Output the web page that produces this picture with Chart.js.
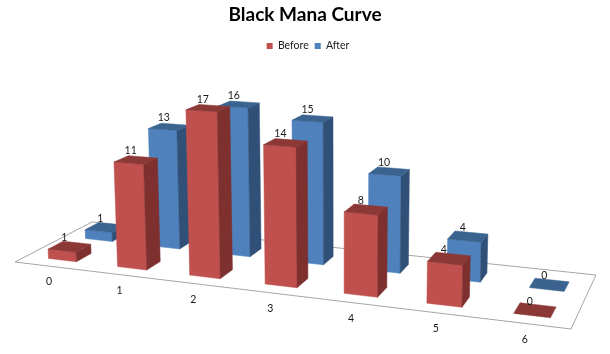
<!DOCTYPE html>
<html>
<head>
<meta charset="utf-8">
<title>Black Mana Curve</title>
<script src="https://cdn.jsdelivr.net/npm/chart.js@4"></script>
<style>
    html, body { margin: 0; padding: 0; background: #fff; }
    canvas { display: block; }
</style>
</head>
<body>
<canvas id="grafico" width="610" height="354"></canvas>
<script>
// Dados
const categorias = ['0', '1', '2', '3', '4', '5', '6'];
const before = [1, 11, 17, 14, 8, 4, 0];
const after = [1, 13, 16, 15, 10, 4, 0];

// Cantos do piso na tela: frente esq, frente dir, fundo dir, fundo esq
const p00 = [15, 262], p10 = [571, 329], p11 = [596, 275], p01 = [92, 222];

// Perspectiva do piso (quadrado unitario -> tela)
const dx1 = p10[0] - p11[0], dx2 = p01[0] - p11[0], sx = p00[0] - p10[0] + p11[0] - p01[0];
const dy1 = p10[1] - p11[1], dy2 = p01[1] - p11[1], sy = p00[1] - p10[1] + p11[1] - p01[1];
const det = dx1 * dy2 - dx2 * dy1;
const g = (sx * dy2 - dx2 * sy) / det;
const h = (dx1 * sy - sx * dy1) / det;
const a = p10[0] - p00[0] + g * p10[0], b = p01[0] - p00[0] + h * p01[0];
const d = p10[1] - p00[1] + g * p10[1], e = p01[1] - p00[1] + h * p01[1];

const alturaTotal = 169; // px de tela para a altura toda do eixo y
const deslocU = 0.004; // ajuste fino das barras no piso

function projetar(u, v, alt) {
    const w = g * u + h * v + 1;
    const bx = (a * u + b * v + p00[0]) / w;
    const by = (d * u + e * v + p00[1]) / w;
    const hp = alt * alturaTotal / w;
    return [bx + (bx - 340) * hp / 6500, by - hp];
}

function face(ctx, pts, cor) {
    ctx.fillStyle = cor;
    ctx.strokeStyle = cor;
    ctx.lineWidth = 0.5;
    ctx.beginPath();
    pts.forEach((p, i) => i ? ctx.lineTo(p[0], p[1]) : ctx.moveTo(p[0], p[1]));
    ctx.closePath();
    ctx.fill();
    ctx.stroke();
}

// Profundidade de cada serie no piso e cores das faces
const series3d = [
    { v0: 0.14, v1: 0.33, frente: '#C0504D', lado: '#7D302E', topo: '#8C3836' },
    { v0: 0.62, v1: 0.81, frente: '#4F81BD', lado: '#305078', topo: '#3A6390' }
];

const barras3d = {
    id: 'barras3d',
    afterLayout(chart) {
        // legenda um pouco a direita do centro, como no original
        chart.legend.left += 3;
        chart.legend.right += 3;
    },
    beforeDatasetsDraw(chart) {
        const ctx = chart.ctx;
        const area = chart.chartArea;
        const esc = chart.scales.y;

        // Piso
        ctx.save();
        ctx.strokeStyle = '#A6A6A6';
        ctx.lineWidth = 1;
        ctx.beginPath();
        ctx.moveTo(p00[0], p00[1]);
        ctx.lineTo(p10[0], p10[1]);
        ctx.lineTo(p11[0], p11[1]);
        ctx.lineTo(p01[0], p01[1]);
        ctx.closePath();
        ctx.stroke();

        const rotulos = [];
        // Serie de tras primeiro
        [1, 0].forEach((ds) => {
            const s = series3d[ds];
            chart.getDatasetMeta(ds).data.forEach((el, i) => {
                const p = el.getProps(['x', 'y', 'base', 'width'], true);
                const u0 = (p.x - p.width / 2 - area.left) / area.width + deslocU;
                const u1 = (p.x + p.width / 2 - area.left) / area.width + deslocU;
                const alt = (esc.getPixelForValue(0) - p.y) / area.height;
                const f0 = projetar(u0, s.v0, alt), f1 = projetar(u1, s.v0, alt);
                const t0 = projetar(u0, s.v1, alt), t1 = projetar(u1, s.v1, alt);
                if (alt > 0) {
                    face(ctx, [f0, f1, projetar(u1, s.v0, 0), projetar(u0, s.v0, 0)], s.frente);
                    face(ctx, [f1, t1, projetar(u1, s.v1, 0), projetar(u1, s.v0, 0)], s.lado);
                }
                face(ctx, [f0, f1, t1, t0], s.topo);
                rotulos.push({
                    x: (f0[0] + t1[0]) / 2 - 5,
                    y: (f0[1] + t1[1]) / 2 - 9,
                    txt: String(chart.data.datasets[ds].data[i])
                });
            });
        });

        // Rotulos de valor e de categoria
        ctx.fillStyle = '#1A1A1A';
        ctx.font = '10.5px Lato';
        ctx.textAlign = 'center';
        ctx.textBaseline = 'middle';
        rotulos.forEach((r) => ctx.fillText(r.txt, r.x, r.y));
        const escX = chart.scales.x;
        categorias.forEach((c, i) => {
            const u = (escX.getPixelForValue(i) - area.left) / area.width;
            const q = projetar(u, 0, 0);
            ctx.fillText(escX.getLabelForValue(i), q[0], q[1] + 16);
        });
        ctx.restore();
        return false;
    }
};

new Chart(document.getElementById('grafico'), {
    type: 'bar',
    data: {
        labels: categorias,
        datasets: [
            { label: 'Before', data: before, backgroundColor: '#C0504D', grouped: false },
            { label: 'After', data: after, backgroundColor: '#4F81BD', grouped: false }
        ]
    },
    options: {
        responsive: false,
        animation: false,
        barPercentage: 1,
        categoryPercentage: 0.41,
        scales: {
            x: { display: false },
            y: { display: false, min: 0, max: 18 }
        },
        plugins: {
            title: {
                display: true,
                text: 'Black Mana Curve',
                color: '#000',
                font: { family: 'Lato', size: 19, weight: 'bold' },
                padding: { top: 3, bottom: 9 }
            },
            legend: {
                position: 'top',
                labels: {
                    boxWidth: 6,
                    boxHeight: 6,
                    padding: 6,
                    color: '#1A1A1A',
                    font: { family: 'Lato', size: 10.5 }
                }
            },
            tooltip: { enabled: false }
        }
    },
    plugins: [barras3d]
});
</script>
</body>
</html>
